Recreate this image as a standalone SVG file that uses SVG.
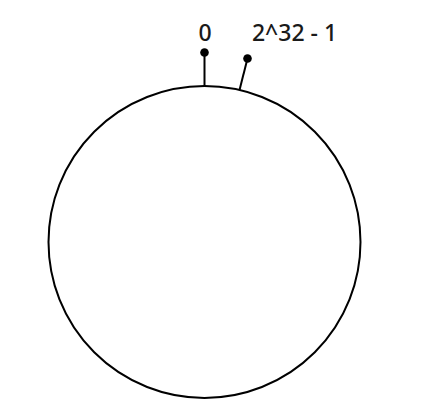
<svg xmlns="http://www.w3.org/2000/svg" width="437" height="418" viewBox="0 0 437 418">
<style>
.ring{fill:none;stroke:#000;stroke-width:2}
.tick{stroke:#000;stroke-width:2}
.dot{fill:#000}
.lbl{font-family:"Noto Sans",sans-serif;font-size:23px;font-weight:500;fill:#1a1a1a;text-anchor:middle}
</style>
<rect width="437" height="418" fill="#fff"/>
<g id="ring"><circle class="ring" cx="204.5" cy="242" r="156"/></g>
<g id="connectors">
<line class="tick" x1="204.5" y1="53" x2="204.5" y2="86"/>
<line class="tick" x1="247.5" y1="58.5" x2="239.5" y2="90"/>
</g>
<g id="node-0"><circle class="dot" cx="204.5" cy="52.5" r="4.3"/><text class="lbl" x="205" y="41">0</text></g>
<g id="node-max"><circle class="dot" cx="247.5" cy="58.5" r="4.3"/><text class="lbl" x="294.5" y="41">2^32 - 1</text></g>
</svg>
